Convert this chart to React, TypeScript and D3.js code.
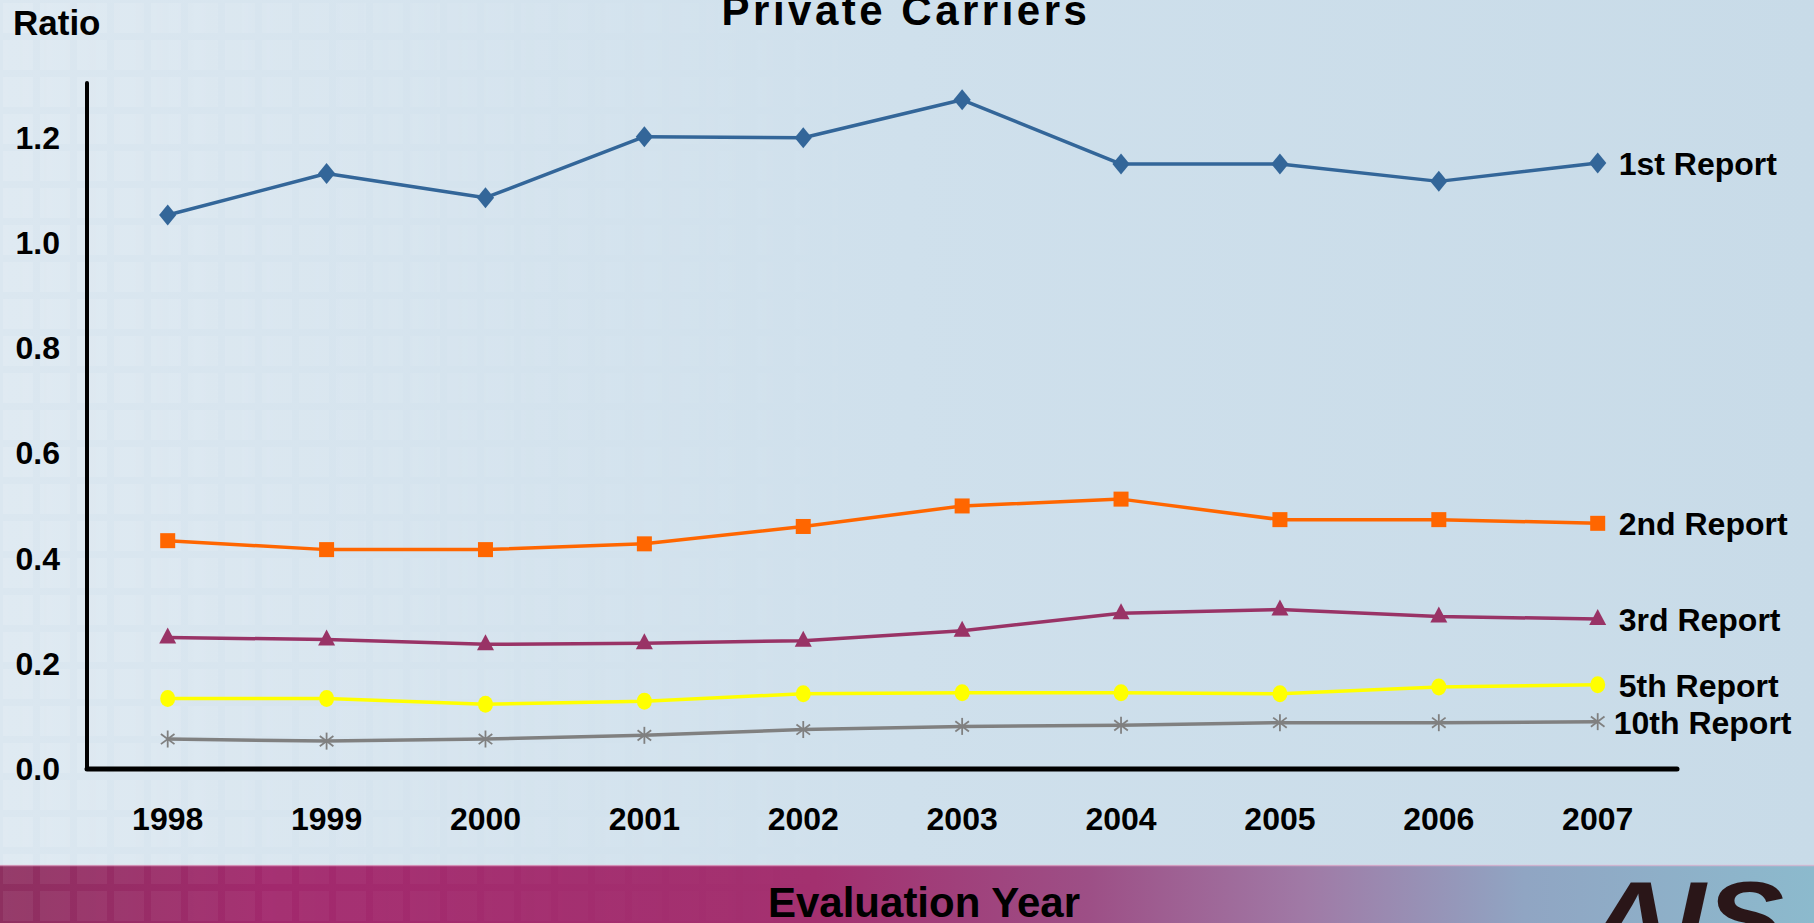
import React, { useEffect } from "react";
import * as d3 from "d3";

const years = ["1998", "1999", "2000", "2001", "2002", "2003", "2004", "2005", "2006", "2007"];
const yTicks = [0, 0.2, 0.4, 0.6, 0.8, 1.0, 1.2];

const report1 = [1.053, 1.132, 1.086, 1.202, 1.200, 1.272, 1.150, 1.150, 1.117, 1.152];
const report2 = [0.434, 0.417, 0.417, 0.428, 0.461, 0.500, 0.513, 0.474, 0.474, 0.467];
const report3 = [0.250, 0.246, 0.237, 0.239, 0.244, 0.263, 0.296, 0.303, 0.290, 0.285];
const report5 = [0.134, 0.134, 0.123, 0.129, 0.143, 0.145, 0.145, 0.143, 0.156, 0.160];
const report10 = [0.057, 0.053, 0.057, 0.064, 0.075, 0.081, 0.083, 0.088, 0.088, 0.090];

const seriesNames = ["1st Report", "2nd Report", "3rd Report", "5th Report", "10th Report"];
const seriesColors = ["#336699", "#ff6600", "#993366", "#ffff00", "#808080"];
const seriesShapes = ["diamond", "square", "triangle", "circle", "asterisk"];
const seriesValues = [report1, report2, report3, report5, report10];

const W = 1814;
const H = 923;
const FONT = "'Liberation Sans', Arial, sans-serif";

export default function App() {
  useEffect(() => {
    document.body.style.margin = "0";
    document.body.style.overflow = "hidden";
  }, []);

  const x = d3.scalePoint<string>().domain(years).range([167.7, 1597.7]);
  const y = d3.scaleLinear().domain([0, 1.2]).range([769, 137.7]);
  const line = d3
    .line<number>()
    .x((_, i) => x(years[i]) as number)
    .y((d) => y(d));

  const marker = (shape: string, color: string, cx: number, cy: number, key: string) => {
    if (shape === "diamond") {
      const r = 10.5;
      return <path key={key} d={`M${cx},${cy - r}L${cx + r * 0.82},${cy}L${cx},${cy + r}L${cx - r * 0.82},${cy}Z`} fill={color} />;
    }
    if (shape === "square") {
      const s = 15;
      return <rect key={key} x={cx - s / 2} y={cy - s / 2} width={s} height={s} fill={color} />;
    }
    if (shape === "triangle") {
      const s = 17;
      return <path key={key} d={`M${cx},${cy - 10}L${cx + s / 2},${cy + 6}L${cx - s / 2},${cy + 6}Z`} fill={color} />;
    }
    if (shape === "circle") {
      return <ellipse key={key} cx={cx} cy={cy} rx={7.5} ry={8.5} fill={color} />;
    }
    const r = 8.5;
    return (
      <g key={key} stroke={color} strokeWidth={1.8}>
        <line x1={cx} y1={cy - r} x2={cx} y2={cy + r} />
        <line x1={cx - r * 0.8} y1={cy - r * 0.6} x2={cx + r * 0.8} y2={cy + r * 0.6} />
        <line x1={cx - r * 0.8} y1={cy + r * 0.6} x2={cx + r * 0.8} y2={cy - r * 0.6} />
      </g>
    );
  };

  const labelDx = [21, 21, 21, 21, 16];

  return (
    <svg width={W} height={H} style={{ position: "absolute", left: 0, top: 0, display: "block" }} fontFamily={FONT}>
      <defs>
        <linearGradient id="bg" x1="0" y1="0" x2="1" y2="0">
          <stop offset="0" stopColor="#dbe7f0" />
          <stop offset="0.5" stopColor="#cfe0ec" />
          <stop offset="1" stopColor="#c8dbe8" />
        </linearGradient>
        <linearGradient id="band" x1="0" y1="0" x2="1" y2="0">
          <stop offset="0" stopColor="#8e3060" />
          <stop offset="0.15" stopColor="#a2296d" />
          <stop offset="0.45" stopColor="#a3306f" />
          <stop offset="0.6" stopColor="#9d4f86" />
          <stop offset="0.72" stopColor="#a07aa6" />
          <stop offset="0.84" stopColor="#90a5c3" />
          <stop offset="1" stopColor="#8cbacd" />
        </linearGradient>
        <pattern id="sq" x="0" y="0" width="37" height="37" patternUnits="userSpaceOnUse">
          <rect x="3" y="3" width="30" height="30" fill="#ffffff" />
        </pattern>
        <linearGradient id="fade" x1="0" y1="0" x2="1" y2="0">
          <stop offset="0" stopColor="#fff" stopOpacity="1" />
          <stop offset="0.3" stopColor="#fff" stopOpacity="0.3" />
          <stop offset="0.5" stopColor="#fff" stopOpacity="0" />
        </linearGradient>
        <mask id="fadeMask">
          <rect x="0" y="0" width={W} height={H} fill="url(#fade)" />
        </mask>
      </defs>
      <rect x="0" y="0" width={W} height={H} fill="url(#bg)" />
      <rect x="0" y="0" width={W} height={865} fill="url(#sq)" opacity={0.12} mask="url(#fadeMask)" />
      <rect x="0" y={865} width={W} height={H - 865} fill="url(#band)" />
      <rect x="0" y={865} width={W} height={H - 865} fill="url(#sq)" opacity={0.06} mask="url(#fadeMask)" />
      <line x1="0" x2={W} y1={865.5} y2={865.5} stroke="#e8b8d4" strokeWidth={1.5} opacity={0.7} />

      {/* AIS logo */}
      <text x={1588} y={954} fontSize={104} fontWeight="bold" fontStyle="italic" fill="#2a1618" textLength={196} lengthAdjust="spacingAndGlyphs">
        AIS
      </text>

      {/* Title */}
      <text x={906} y={25} textAnchor="middle" fontSize={42} fontWeight="bold" letterSpacing={3.5} fill="#000">
        Private Carriers
      </text>
      <text x={13} y={35} fontSize={35} fontWeight="bold" fill="#000">
        Ratio
      </text>

      {/* Axes */}
      <line x1={87} x2={87} y1={83} y2={769} stroke="#000" strokeWidth={4} strokeLinecap="round" />
      <line x1={87} x2={1677} y1={769} y2={769} stroke="#000" strokeWidth={5} strokeLinecap="round" />

      {yTicks.map((t) => (
        <text key={t} x={60} y={y(t)} textAnchor="end" dominantBaseline="central" fontSize={32} fontWeight="bold" fill="#000">
          {d3.format(".1f")(t)}
        </text>
      ))}
      {years.map((yr) => (
        <text key={yr} x={x(yr) as number} y={830} textAnchor="middle" fontSize={32} fontWeight="bold" fill="#000">
          {yr}
        </text>
      ))}

      {/* Series */}
      {seriesValues.map((vals, si) => (
        <g key={seriesNames[si]}>
          <path d={line(vals) || ""} fill="none" stroke={seriesColors[si]} strokeWidth={3.5} strokeLinejoin="round" />
          {vals.map((v, i) => marker(seriesShapes[si], seriesColors[si], x(years[i]) as number, y(v), `${si}-${i}`))}
          <text
            x={(x(years[years.length - 1]) as number) + labelDx[si]}
            y={y(vals[vals.length - 1]) + 1}
            dominantBaseline="central"
            fontSize={32}
            fontWeight="bold"
            fill="#000"
          >
            {seriesNames[si]}
          </text>
        </g>
      ))}

      <text x={924} y={917} textAnchor="middle" fontSize={42} fontWeight="bold" fill="#000">
        Evaluation Year
      </text>
    </svg>
  );
}
